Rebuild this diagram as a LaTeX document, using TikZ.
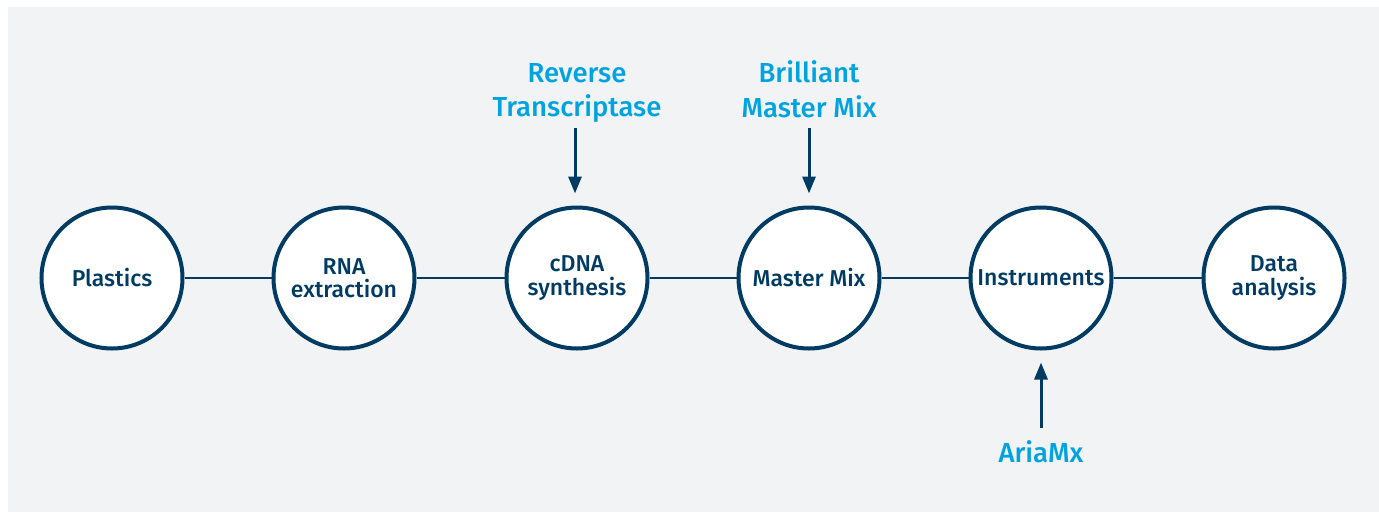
\documentclass[tikz,border=0pt]{standalone}
\usepackage{fontspec}
\setmainfont{Fira Sans Medium}
\usetikzlibrary{arrows.meta}
\definecolor{navy}{HTML}{003B64}
\definecolor{sky}{HTML}{00A3E0}
\definecolor{bg}{HTML}{F1F3F5}
\tikzset{
  stepcircle/.style={circle, draw=navy, line width=4pt, fill=white, minimum size=141pt, inner sep=0pt, align=center, text=navy, font=\fontsize{23}{23.5}\selectfont},
  link/.style={draw=navy, line width=2.5pt},
  feed/.style={draw=navy, line width=3pt, -{Triangle[width=13pt,length=17pt]}},
  inlabel/.style={text=sky, align=center, font=\fontsize{27.5}{34.5}\selectfont, inner sep=0pt}
}
\begin{document}
\begin{tikzpicture}[x=1pt,y=-1pt]
\useasboundingbox (0,0) rectangle (1379,512);
\fill[white] (0,0) rectangle (1379,512);
\fill[bg] (8,7) rectangle (1379,512);
\node[stepcircle] (c1) at (112,278) {Plastics};
\node[stepcircle] (c2) at (344,278) {RNA\\extraction};
\node[stepcircle] (c3) at (577,278) {cDNA\\synthesis};
\node[stepcircle] (c4) at (809,278) {Master Mix};
\node[stepcircle] (c5) at (1041,278) {Instruments};
\node[stepcircle] (c6) at (1274,278) {Data\\analysis};
\draw[link] (c1) -- (c2);
\draw[link] (c2) -- (c3);
\draw[link] (c3) -- (c4);
\draw[link] (c4) -- (c5);
\draw[link] (c5) -- (c6);
\node[inlabel] (rt) at (577,93) {Reverse\\Transcriptase};
\node[inlabel] (bm) at (809,89) {Brilliant\\Master Mix};
\node[inlabel] (am) at (1041,452) {AriaMx};
\coordinate (rts) at (575,128);
\coordinate (bms) at (809,128);
\coordinate (ams) at (1041,428);
\draw[feed] (rts) -- ([yshift=12pt]c3.north -| rts);
\draw[feed] (bms) -- ([yshift=12pt]c4.north);
\draw[feed] (ams) -- ([yshift=-12pt]c5.south);
\end{tikzpicture}
\end{document}
